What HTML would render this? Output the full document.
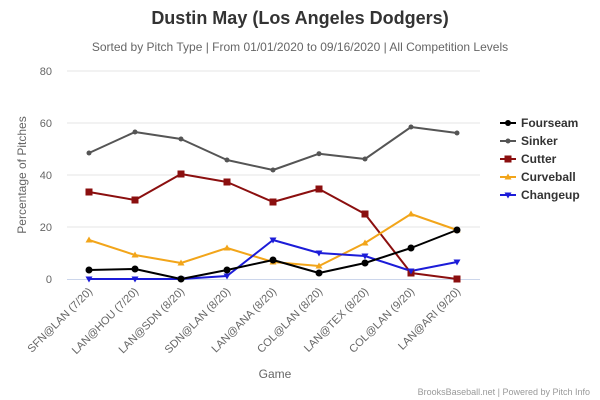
<!DOCTYPE html>
<html><head><meta charset="utf-8"><style>
html,body{margin:0;padding:0;background:#fff;}
svg{display:block;font-family:"Liberation Sans",sans-serif;}
</style></head><body>
<svg width="600" height="400" viewBox="0 0 600 400" xmlns="http://www.w3.org/2000/svg">
<text x="300" y="24" text-anchor="middle" font-size="18" font-weight="bold" fill="#333">Dustin May (Los Angeles Dodgers)</text>
<text x="300" y="51" text-anchor="middle" font-size="12" fill="#666">Sorted by Pitch Type | From 01/01/2020 to 09/16/2020 | All Competition Levels</text>
<g stroke="#e6e6e6" stroke-width="1">
<line x1="67" y1="71" x2="480" y2="71"/><line x1="67" y1="123" x2="480" y2="123"/>
<line x1="67" y1="175" x2="480" y2="175"/><line x1="67" y1="227" x2="480" y2="227"/>
</g>
<line x1="67" y1="279.5" x2="480" y2="279.5" stroke="#ccd6eb"/>
<g font-size="11" fill="#666" text-anchor="end">
<text x="52" y="75">80</text><text x="52" y="127">60</text><text x="52" y="179">40</text><text x="52" y="231">20</text><text x="52" y="283">0</text>
</g>
<text transform="translate(26,175) rotate(-90)" text-anchor="middle" font-size="12" fill="#666">Percentage of Pitches</text>
<g font-size="11" fill="#666" text-anchor="end">
<text transform="translate(93,292) rotate(-45)">SFN@LAN (7/20)</text>
<text transform="translate(139,292) rotate(-45)">LAN@HOU (7/20)</text>
<text transform="translate(185,292) rotate(-45)">LAN@SDN (8/20)</text>
<text transform="translate(231,292) rotate(-45)">SDN@LAN (8/20)</text>
<text transform="translate(277,292) rotate(-45)">LAN@ANA (8/20)</text>
<text transform="translate(323,292) rotate(-45)">COL@LAN (8/20)</text>
<text transform="translate(369,292) rotate(-45)">LAN@TEX (8/20)</text>
<text transform="translate(415,292) rotate(-45)">COL@LAN (9/20)</text>
<text transform="translate(461,292) rotate(-45)">LAN@ARI (9/20)</text>
</g>
<text x="275" y="378" text-anchor="middle" font-size="12" fill="#666">Game</text>
<g fill="none" stroke-width="2" stroke-linejoin="round">
<polyline stroke="#555" points="89,153 135,132 181,139 227,160 273,170 319,153.7 365,159 411,127 457,133"/>
<polyline stroke="#8b0f0f" points="89,192 135,200 181,174 227,182 273,202 319,189 365,214 411,273 457,279"/>
<polyline stroke="#f2a51a" points="89,240 135,255 181,263 227,248 273,262 319,266 365,243 411,214 457,230"/>
<polyline stroke="#1c1cd8" points="89,279 135,279 181,279 227,276 273,240 319,253 365,256 411,271 457,262"/>
<polyline stroke="#000" points="89,270 135,269 181,279 227,270 273,260 319,273 365,263 411,248 457,230"/>
</g>
<g fill="#555">
<circle cx="89" cy="153" r="2.5"/><circle cx="135" cy="132" r="2.5"/><circle cx="181" cy="139" r="2.5"/><circle cx="227" cy="160" r="2.5"/><circle cx="273" cy="170" r="2.5"/><circle cx="319" cy="153.7" r="2.5"/><circle cx="365" cy="159" r="2.5"/><circle cx="411" cy="127" r="2.5"/><circle cx="457" cy="133" r="2.5"/>
</g>
<g fill="#8b0f0f">
<rect x="85.5" y="188.5" width="7" height="7"/><rect x="131.5" y="196.5" width="7" height="7"/><rect x="177.5" y="170.5" width="7" height="7"/><rect x="223.5" y="178.5" width="7" height="7"/><rect x="269.5" y="198.5" width="7" height="7"/><rect x="315.5" y="185.5" width="7" height="7"/><rect x="361.5" y="210.5" width="7" height="7"/><rect x="407.5" y="269.5" width="7" height="7"/><rect x="453.5" y="275.5" width="7" height="7"/>
</g>
<g fill="#f2a51a">
<path d="M89,236.5l3.5,6h-7z"/><path d="M135,251.5l3.5,6h-7z"/><path d="M181,259.5l3.5,6h-7z"/><path d="M227,244.5l3.5,6h-7z"/><path d="M273,258.5l3.5,6h-7z"/><path d="M319,262.5l3.5,6h-7z"/><path d="M365,239.5l3.5,6h-7z"/><path d="M411,210.5l3.5,6h-7z"/><path d="M457,226.5l3.5,6h-7z"/>
</g>
<g fill="#1c1cd8">
<path d="M89,282.5l3.5,-6h-7z"/><path d="M135,282.5l3.5,-6h-7z"/><path d="M181,282.5l3.5,-6h-7z"/><path d="M227,279.5l3.5,-6h-7z"/><path d="M273,243.5l3.5,-6h-7z"/><path d="M319,256.5l3.5,-6h-7z"/><path d="M365,259.5l3.5,-6h-7z"/><path d="M411,274.5l3.5,-6h-7z"/><path d="M457,265.5l3.5,-6h-7z"/>
</g>
<g fill="#000">
<circle cx="89" cy="270" r="3.5"/><circle cx="135" cy="269" r="3.5"/><circle cx="181" cy="279" r="3.5"/><circle cx="227" cy="270" r="3.5"/><circle cx="273" cy="260" r="3.5"/><circle cx="319" cy="273" r="3.5"/><circle cx="365" cy="263" r="3.5"/><circle cx="411" cy="248" r="3.5"/><circle cx="457" cy="230" r="3.5"/>
</g>
<g font-size="12" font-weight="bold" fill="#333">
<line x1="500" y1="123" x2="516" y2="123" stroke="#000" stroke-width="2"/><circle cx="508" cy="123" r="3" fill="#000"/><text x="521" y="127">Fourseam</text>
<line x1="500" y1="141" x2="516" y2="141" stroke="#555" stroke-width="2"/><circle cx="508" cy="141" r="2.5" fill="#555"/><text x="521" y="145">Sinker</text>
<line x1="500" y1="159" x2="516" y2="159" stroke="#8b0f0f" stroke-width="2"/><rect x="504.5" y="155.5" width="7" height="7" fill="#8b0f0f"/><text x="521" y="163">Cutter</text>
<line x1="500" y1="177" x2="516" y2="177" stroke="#f2a51a" stroke-width="2"/><path d="M508,173.5l3.5,6h-7z" fill="#f2a51a"/><text x="521" y="181">Curveball</text>
<line x1="500" y1="195" x2="516" y2="195" stroke="#1c1cd8" stroke-width="2"/><path d="M508,198.5l3.5,-6h-7z" fill="#1c1cd8"/><text x="521" y="199">Changeup</text>
</g>
<text x="590" y="395" text-anchor="end" font-size="9" fill="#999">BrooksBaseball.net | Powered by Pitch Info</text>
</svg>
</body></html>
